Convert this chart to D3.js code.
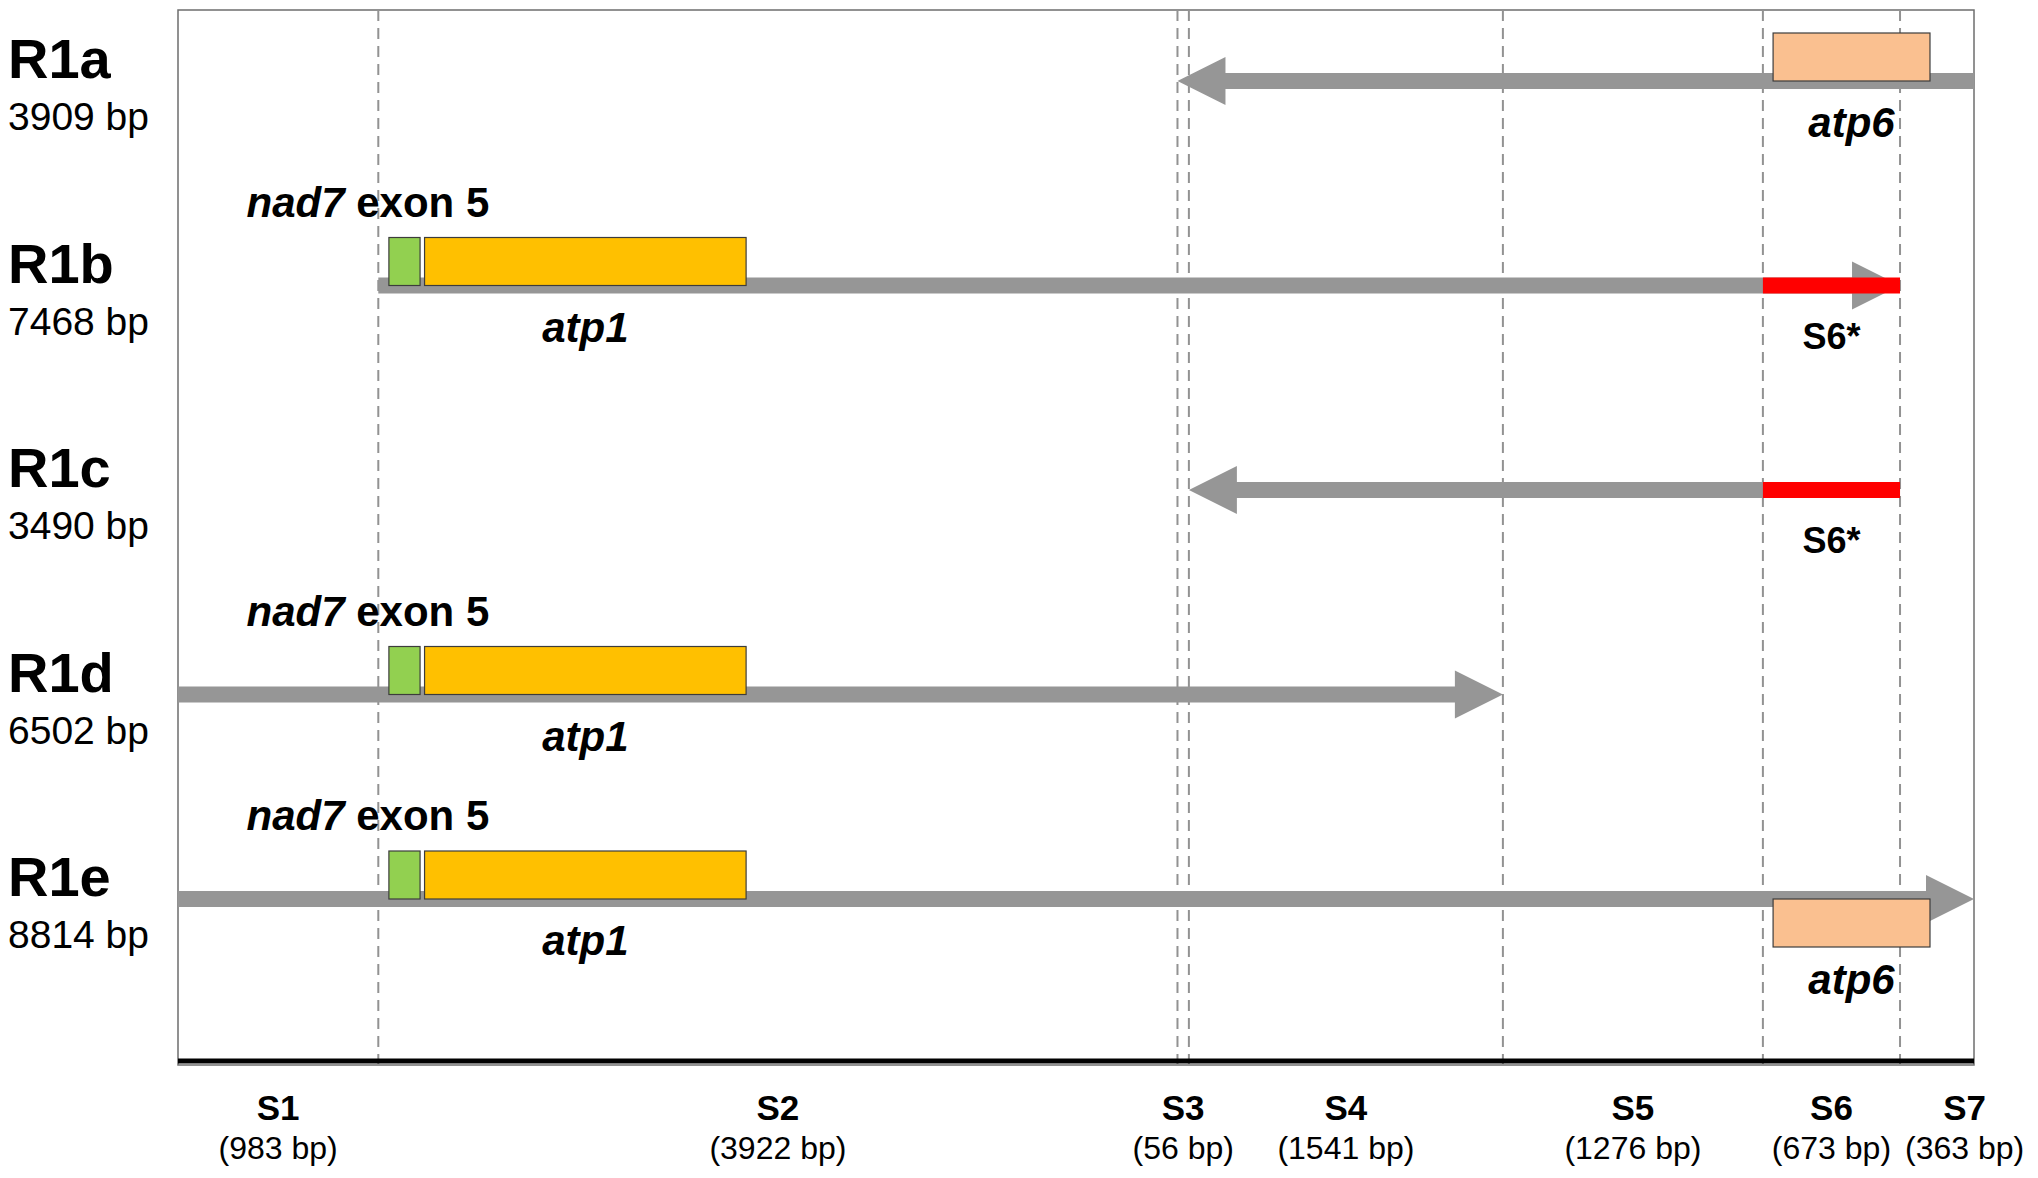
<!DOCTYPE html>
<html lang="en">
<head>
  <meta charset="utf-8">
  <title>R1 reads over segments S1-S7</title>
  <script src="https://d3js.org/d3.v7.min.js"></script>
  <style>
    body {
      margin: 0;
      background: #fff;
    }
    svg text {
      font-family: "Liberation Sans", Arial, sans-serif;
      fill: #000;
    }
  </style>
</head>
<body>

<svg id="chart" width="2038" height="1178"></svg>

<script>
  // Segments along the genome (bp)
  const segmentNames   = ["S1", "S2", "S3", "S4", "S5", "S6", "S7"];
  const segmentLengths = [983, 3922, 56, 1541, 1276, 673, 363];

  // Reads: name, length, first/last segment index, direction, highlighted segment
  const readNames     = ["R1a", "R1b", "R1c", "R1d", "R1e"];
  const readLengths   = [3909, 7468, 3490, 6502, 8814];
  const readFirstSeg  = [2, 1, 3, 0, 0];
  const readLastSeg   = [6, 5, 5, 3, 6];
  const readDirection = ["left", "right", "left", "right", "right"];
  const readStarSeg   = [null, 5, 5, null, null];   // S6* in red

  // Genes (bp, same coordinates as the segments)
  const geneNames  = ["nad7", "atp1", "atp6"];
  const geneStart  = [1035, 1210, 7828];
  const geneEnd    = [1188, 2788, 8598];
  const geneColors = ["#92d050", "#ffc000", "#fac090"];

  // Which genes are drawn on each read, and on which side of the line
  const readGenes = [
    [{ gene: 2, side: "above" }],
    [{ gene: 0, side: "above" }, { gene: 1, side: "above" }],
    [],
    [{ gene: 0, side: "above" }, { gene: 1, side: "above" }],
    [{ gene: 0, side: "above" }, { gene: 1, side: "above" }, { gene: 2, side: "below" }]
  ];

  // Layout
  const W = 2038;
  const frame = { left: 178, right: 1974, top: 10, bottom: 1065 };
  const barH = 16, headL = 48, headH = 24, boxH = 48;
  const grey = "#969696";

  const svg = d3.select("#chart");

  const segEnds   = Array.from(d3.cumsum(segmentLengths));
  const segStarts = [0].concat(segEnds.slice(0, -1));
  const total     = d3.sum(segmentLengths);

  const x = d3.scaleLinear().domain([0, total]).range([frame.left, frame.right]);
  const y = d3.scalePoint().domain(readNames).range([81, 899]);

  // Frame
  svg.append("rect")
    .attr("x", frame.left)
    .attr("y", frame.top)
    .attr("width", frame.right - frame.left)
    .attr("height", frame.bottom - frame.top)
    .attr("fill", "none")
    .attr("stroke", "#6e6e6e")
    .attr("stroke-width", 1.5);

  // Dashed segment boundaries
  svg.selectAll(".boundary")
    .data(segEnds.slice(0, -1))
    .enter()
    .append("line")
    .attr("class", "boundary")
    .attr("x1", d => x(d))
    .attr("x2", d => x(d))
    .attr("y1", frame.top)
    .attr("y2", frame.bottom)
    .attr("stroke", "#929292")
    .attr("stroke-width", 2)
    .attr("stroke-dasharray", "11,7");

  // Thick bottom line
  svg.append("line")
    .attr("x1", frame.left)
    .attr("x2", frame.right)
    .attr("y1", frame.bottom - 4)
    .attr("y2", frame.bottom - 4)
    .attr("stroke", "#000")
    .attr("stroke-width", 5);

  // Arrow path: from x0 (tail) to x1 (tip)
  function arrowPath(x0, x1, cy, dir) {
    const s = dir === "right" ? 1 : -1;
    const hb = x1 - s * headL;
    return [
      "M", x0, cy - barH / 2,
      "L", hb, cy - barH / 2,
      "L", hb, cy - headH,
      "L", x1, cy,
      "L", hb, cy + headH,
      "L", hb, cy + barH / 2,
      "L", x0, cy + barH / 2, "Z"
    ].join(" ");
  }

  readNames.forEach((name, i) => {
    const cy = y(name);
    const start = segStarts[readFirstSeg[i]];
    const end = segEnds[readLastSeg[i]];
    const dir = readDirection[i];
    const g = svg.append("g").attr("class", "read");

    const tail = dir === "right" ? x(start) : x(end);
    const tip  = dir === "right" ? x(end) : x(start);
    g.append("path")
      .attr("d", arrowPath(tail, tip, cy, dir))
      .attr("fill", grey);

    // S6* in red
    if (readStarSeg[i] !== null) {
      const k = readStarSeg[i];
      g.append("rect")
        .attr("x", x(segStarts[k]))
        .attr("y", cy - barH / 2)
        .attr("width", x(segEnds[k]) - x(segStarts[k]))
        .attr("height", barH)
        .attr("fill", "#ff0000");
      g.append("text")
        .attr("x", (x(segStarts[k]) + x(segEnds[k])) / 2)
        .attr("y", cy + 63)
        .attr("text-anchor", "middle")
        .attr("font-size", 36)
        .attr("font-weight", "bold")
        .text(segmentNames[k] + "*");
    }

    // genes
    readGenes[i].forEach(f => {
      const gx0 = x(geneStart[f.gene]), gx1 = x(geneEnd[f.gene]);
      const top = f.side === "above" ? cy - boxH : cy;
      g.append("rect")
        .attr("x", gx0)
        .attr("y", top)
        .attr("width", gx1 - gx0)
        .attr("height", boxH)
        .attr("fill", geneColors[f.gene])
        .attr("stroke", "#3c3c3c")
        .attr("stroke-width", 1.2);

      if (geneNames[f.gene] === "nad7") {
        const t = g.append("text")
          .attr("x", gx0 - 21)
          .attr("y", cy - 69)
          .attr("text-anchor", "middle")
          .attr("font-size", 42)
          .attr("font-weight", "bold");
        t.append("tspan").attr("font-style", "italic").text("nad7");
        t.append("tspan").text(" exon 5");
      } else {
        const ly = f.side === "above" ? cy + 56 : cy + boxH + 47;
        g.append("text")
          .attr("x", (gx0 + gx1) / 2)
          .attr("y", ly)
          .attr("text-anchor", "middle")
          .attr("font-size", 42)
          .attr("font-weight", "bold")
          .attr("font-style", "italic")
          .text(geneNames[f.gene]);
      }
    });

    // read labels on the left
    svg.append("text")
      .attr("x", 8)
      .attr("y", cy - 3)
      .attr("font-size", 56)
      .attr("font-weight", "bold")
      .text(name);
    svg.append("text")
      .attr("x", 8)
      .attr("y", cy + 49)
      .attr("font-size", 39)
      .text(readLengths[i] + " bp");
  });

  // Segment labels under the axis, centred on each segment
  const segLabels = svg.selectAll(".seglabel")
    .data(segmentNames)
    .enter()
    .append("g")
    .attr("class", "seglabel");

  segLabels.append("text")
    .attr("y", 1120)
    .attr("text-anchor", "middle")
    .attr("font-size", 35)
    .attr("font-weight", "bold")
    .text(d => d);

  segLabels.append("text")
    .attr("y", 1159)
    .attr("text-anchor", "middle")
    .attr("font-size", 32)
    .text((d, i) => "(" + segmentLengths[i] + " bp)");

  // push apart labels of short segments so they do not overlap
  const gap = 14;
  const centers = segmentNames.map((d, i) => x((segStarts[i] + segEnds[i]) / 2));
  const widths = segLabels.nodes().map(n => n.getBBox().width);
  for (let i = 1; i < centers.length; i++) {
    const minC = centers[i - 1] + widths[i - 1] / 2 + gap + widths[i] / 2;
    if (centers[i] < minC) centers[i] = minC;
  }
  const last = centers.length - 1;
  const maxC = W - 8 - widths[last] / 2;
  if (centers[last] > maxC) {
    centers[last] = maxC;
    for (let i = last - 1; i >= 0; i--) {
      const maxI = centers[i + 1] - widths[i + 1] / 2 - gap - widths[i] / 2;
      if (centers[i] > maxI) centers[i] = maxI;
    }
  }
  segLabels.attr("transform", (d, i) => `translate(${centers[i]},0)`);
</script>
</body>
</html>
